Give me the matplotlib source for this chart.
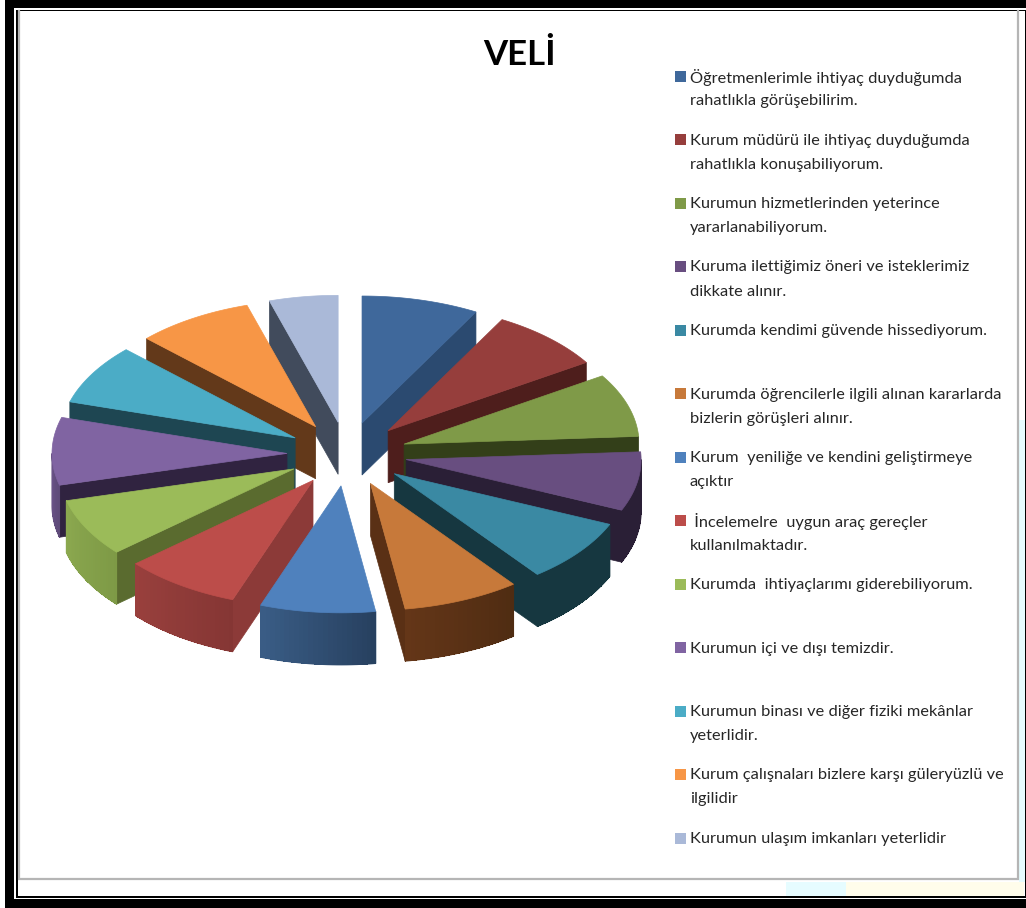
import numpy as np
import matplotlib
matplotlib.use('Agg')
import matplotlib.pyplot as plt
from matplotlib.patches import Polygon, Rectangle

# degrees, roughly equal shares with a small last one
values = [29, 28.5, 29, 27, 29, 29, 28.5, 29, 26.5, 31, 27.5, 29, 17]

labels = ["Öğretmenlerimle ihtiyaç duyduğumda\nrahatlıkla görüşebilirim.",
          "Kurum müdürü ile ihtiyaç duyduğumda\nrahatlıkla konuşabiliyorum.",
          "Kurumun hizmetlerinden yeterince\nyararlanabiliyorum.",
          "Kuruma ilettiğimiz öneri ve isteklerimiz\ndikkate alınır.",
          "Kurumda kendimi güvende hissediyorum.",
          "Kurumda öğrencilerle ilgili alınan kararlarda\nbizlerin görüşleri alınır.",
          "Kurum  yeniliğe ve kendini geliştirmeye\naçıktır",
          " İncelemelre  uygun araç gereçler\nkullanılmaktadır.",
          "Kurumda  ihtiyaçlarımı giderebiliyorum.",
          "Kurumun içi ve dışı temizdir.",
          "Kurumun binası ve diğer fiziki mekânlar\nyeterlidir.",
          "Kurum çalışnaları bizlere karşı güleryüzlü ve\nilgilidir",
          "Kurumun ulaşım imkanları yeterlidir"]

top_colors = ['#3F689B', '#963E3C', '#7F9A48', '#684E80', '#3A89A3', '#C7793A', '#4F81BD',
              '#BC4D4A', '#9BBB59', '#8064A2', '#4BACC6', '#F79646', '#AAB9D8']
side_colors = ['#2B4A70', '#4E1E1C', '#333F19', '#2A1F36', '#163740', '#5A3015', '#2F4F78',
               '#8C3A38', '#5A6B2F', '#302340', '#1E4652', '#63391A', '#414B5C']
wall_left = ['#2B4A70', '#4E1E1C', '#333F19', '#2A1F36', '#163740', '#643618', '#3A5D86',
             '#99403D', '#8BA84F', '#6A5388', '#1E4652', '#63391A', '#414B5C']
wall_right = ['#2B4A70', '#4E1E1C', '#333F19', '#2A1F36', '#163740', '#4F2C12', '#27405F',
              '#853634', '#7E9A46', '#5E4A78', '#1E4652', '#63391A', '#414B5C']

# pie geometry in pixels
cx, cy = 347, 454
rx, ry = 235, 127
ex, ey = 60, 32
depth = 52


def outer(theta, ox, oy):
    return ox + rx * np.sin(theta), oy - ry * np.cos(theta)


fig = plt.figure(figsize=(10.26, 9.08), dpi=100, facecolor='white')
ax = fig.add_axes([0, 0, 1, 1])
ax.set_xlim(0, 1026)
ax.set_ylim(908, 0)
ax.axis('off')

# picture frame
ax.add_patch(Rectangle((0, 0), 1026, 908, fc='black', ec='none', zorder=0))
ax.add_patch(Rectangle((0, 0), 5, 908, fc='white', ec='none', zorder=0.1))
ax.add_patch(Rectangle((14, 8), 1012, 891, fc='white', ec='none', zorder=0.2))
ax.add_patch(Rectangle((16, 9.5), 1010, 888, fc='black', ec='none', zorder=0.3))
ax.add_patch(Rectangle((18, 11), 1006.5, 885, fc='white', ec='none', zorder=0.4))
ax.add_patch(Rectangle((786, 882), 238, 14, fc='#FFFDEB', ec='none', zorder=0.45))
ax.add_patch(Rectangle((786, 882), 60, 14, fc='#E6FCFF', ec='none', zorder=0.46))
ax.add_patch(Rectangle((1019, 420), 5.5, 462, fc='#E6FCFF', ec='none', zorder=0.47))
ax.plot([19, 19, 1017.5, 1017.5], [11, 879, 879, 11], color='#B5B5B5', lw=1.6, zorder=0.5,
        solid_joinstyle='miter')

# slices, back ones first
edges = np.radians(np.concatenate([[0], np.cumsum(values)]))
order = np.argsort(-np.cos((edges[:-1] + edges[1:]) / 2))
z = 1
for i in order:
    a, b = edges[i], edges[i + 1]
    mid = (a + b) / 2
    ox = cx + ex * np.sin(mid)
    oy = cy - ey * np.cos(mid)
    # radial walls, only the ones facing the viewer
    for th, vis in ((a, np.sin(a) < 0), (b, np.sin(b) > 0)):
        if vis:
            x1, y1 = outer(th, ox, oy)
            ax.add_patch(Polygon([(ox, oy), (x1, y1), (x1, y1 + depth), (ox, oy + depth)],
                                 fc=side_colors[i], ec=side_colors[i], lw=0.5, zorder=z))
            z += 1
    # outer wall in small strips for the gradient
    lo, hi = max(a, np.pi / 2), min(b, 3 * np.pi / 2)
    if hi > lo:
        steps = np.linspace(lo, hi, 25)
        c1 = np.array(matplotlib.colors.to_rgb(wall_left[i]))
        c2 = np.array(matplotlib.colors.to_rgb(wall_right[i]))
        xs, ys = outer(steps, ox, oy)
        outline = list(zip(xs, ys)) + list(zip(xs[::-1], ys[::-1] + depth))
        ax.add_patch(Polygon(outline, fc=(c1 + c2) / 2, ec=(c1 + c2) / 2, lw=0.8, zorder=z))
        z += 1
        for k in range(24):
            t = (k + 0.5) / 24
            # strips run clockwise, so right to left across the front
            col = c2 * (1 - t) + c1 * t
            ax.add_patch(Polygon([(xs[k], ys[k]), (xs[k + 1], ys[k + 1]),
                                  (xs[k + 1], ys[k + 1] + depth), (xs[k], ys[k] + depth)],
                                 fc=col, ec='none', antialiased=False, zorder=z))
        z += 1
    # top face
    th = np.linspace(a, b, 40)
    xs, ys = outer(th, ox, oy)
    pts = [(ox, oy)] + list(zip(xs, ys))
    ax.add_patch(Polygon(pts, fc=top_colors[i], ec=top_colors[i], lw=0.5, zorder=z))
    z += 1

ax.text(519, 55, "VELİ", family='Lato', weight='bold', fontsize=25, color='black',
        ha='center', va='center', zorder=200)

# legend
for i, lab in enumerate(labels):
    y = 76 + 63.5 * i
    ax.add_patch(Rectangle((675, y - 5.5), 11, 11, fc=top_colors[i], ec='none', zorder=200))
    for j, line in enumerate(lab.split('\n')):
        ax.text(690, y + 1 + 24 * j, line, family='Lato', fontsize=11.8, color='#262626',
                ha='left', va='center', zorder=200)

fig.savefig('out.png', dpi=100)
